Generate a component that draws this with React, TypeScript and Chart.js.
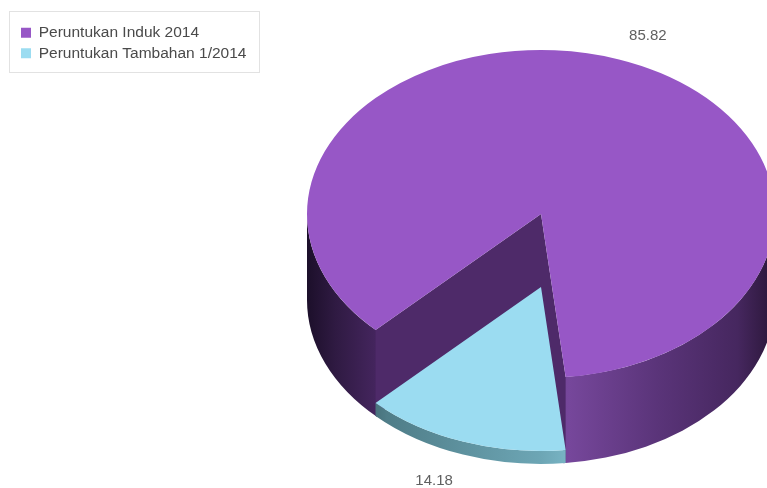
import React, { useEffect, useRef } from "react";
import { Chart, registerables } from "chart.js";

Chart.register(...registerables);

const categories = ["Peruntukan Induk 2014", "Peruntukan Tambahan 1/2014"];
const values = [85.82, 14.18];
const sliceColors = ["#9757c6", "#9bdcf1"];

// 3D projection of the pie
const CX = 541, CY = 214, RX = 234, RY = 164;
const DROP = [0, 73]; // vertical displacement of each slice's top
const DEPTH = [86, 13]; // wall height of each slice
const WALL_STOPS = [
  [[0, "#1c0f2a"], [0.06, "#2f1a42"], [0.17, "#4a2865"], [0.5, "#6a3f8c"], [0.56, "#76479b"], [0.75, "#5a3479"], [0.92, "#46275f"], [1, "#2a1638"]],
  [[0, "#1c2e33"], [0.17, "#4f7d88"], [0.5, "#6da6b5"], [0.56, "#79b5c5"], [1, "#2a3f45"]],
] as [number, string][][];
const FACE_COLORS = ["#4e2a69", "#4f7d88"];
const LABEL_FONT = "15px 'Liberation Sans', Arial, sans-serif";
const SEAM = [0.01, 0];

const pie3d = {
  id: "pie3d",
  beforeDraw(chart: any) {
    const items = chart.legend?.legendHitBoxes;
    if (!items?.length) return;
    const { ctx } = chart;
    const l = items[0].left - 12;
    const t = items[0].top - 14;
    ctx.save();
    ctx.strokeStyle = "#e2e2e2";
    ctx.lineWidth = 1;
    ctx.strokeRect(l + 0.5, t + 0.5, 250, 61);
    ctx.restore();
  },
  beforeDatasetDraw(chart: any) {
    const { ctx } = chart;
    const arcs = chart.getDatasetMeta(0).data;
    arcs.forEach((arc: any, i: number) => {
      const top = CY + DROP[i];
      const h = DEPTH[i];
      const a0 = arc.startAngle;
      const a1 = arc.endAngle;
      const grad = ctx.createLinearGradient(CX - RX, 0, CX + RX, 0);
      WALL_STOPS[i].forEach(([p, c]) => grad.addColorStop(p, c));

      // the rounded wall, in the front half of the ellipse
      ctx.fillStyle = grad;
      [0, 2 * Math.PI].forEach((base) => {
        const s = Math.max(a0 - SEAM[i], base);
        const e = Math.min(a1 + SEAM[i], base + Math.PI);
        if (e <= s) return;
        ctx.beginPath();
        ctx.ellipse(CX, top, RX, RY, 0, s, e);
        ctx.ellipse(CX, top + h, RX, RY, 0, e, s, true);
        ctx.closePath();
        ctx.fill();
      });

      // the cut faces (only the first slice shows them)
      if (i === 0) {
        ctx.fillStyle = FACE_COLORS[i];
        [a0, a1].forEach((a) => {
          const ex = CX + RX * Math.cos(a);
          const ey = top + RY * Math.sin(a);
          ctx.beginPath();
          ctx.moveTo(CX, top);
          ctx.lineTo(ex, ey);
          ctx.lineTo(ex, ey + h);
          ctx.lineTo(CX, top + h);
          ctx.closePath();
          ctx.fill();
        });
      }

      // the top, drawn by the library's arc squashed into the ellipse
      ctx.save();
      ctx.translate(CX, top);
      ctx.scale(RX / arc.outerRadius, RY / arc.outerRadius);
      ctx.translate(-arc.x, -arc.y);
      arc.draw(ctx);
      ctx.restore();
    });

    // value labels
    ctx.save();
    ctx.font = LABEL_FONT;
    ctx.fillStyle = "#606060";
    ctx.textAlign = "center";
    ctx.textBaseline = "middle";
    arcs.forEach((arc: any, i: number) => {
      const mid = (arc.startAngle + arc.endAngle) / 2;
      const x = CX + 1.37 * RX * Math.cos(mid);
      const y = CY + DROP[i] + 1.2 * DEPTH[i] * (Math.sin(mid) > 0 ? 1 : 0) + 1.15 * RY * Math.sin(mid);
      ctx.fillText(values[i].toFixed(2), x, y);
    });
    ctx.restore();
    return false;
  },
};

export default function App() {
  const ref = useRef<HTMLCanvasElement>(null);
  useEffect(() => {
    const chart = new Chart(ref.current!, {
      type: "pie",
      data: {
        labels: categories,
        datasets: [{ data: values, backgroundColor: sliceColors, borderWidth: 0 }],
      },
      options: {
        animation: false,
        responsive: false,
        devicePixelRatio: 1,
        rotation: 225,
        layout: { padding: { left: 16, top: 20, right: 0, bottom: 0 } },
        plugins: {
          tooltip: { enabled: false },
          legend: {
            position: "left",
            align: "start",
            labels: {
              boxWidth: 10,
              boxHeight: 10,
              padding: 5,
              color: "#4a4a4a",
              font: { family: "'Liberation Sans', Arial, sans-serif", size: 15.5 },
            },
          },
        },
      },
      plugins: [pie3d],
    } as any);
    return () => chart.destroy();
  }, []);
  return (
    <div style={{ position: "fixed", left: 0, top: 0, width: 767, height: 488, background: "#fff" }}>
      <canvas ref={ref} width={767} height={488} style={{ display: "block", filter: "blur(0.4px)" }} />
    </div>
  );
}
